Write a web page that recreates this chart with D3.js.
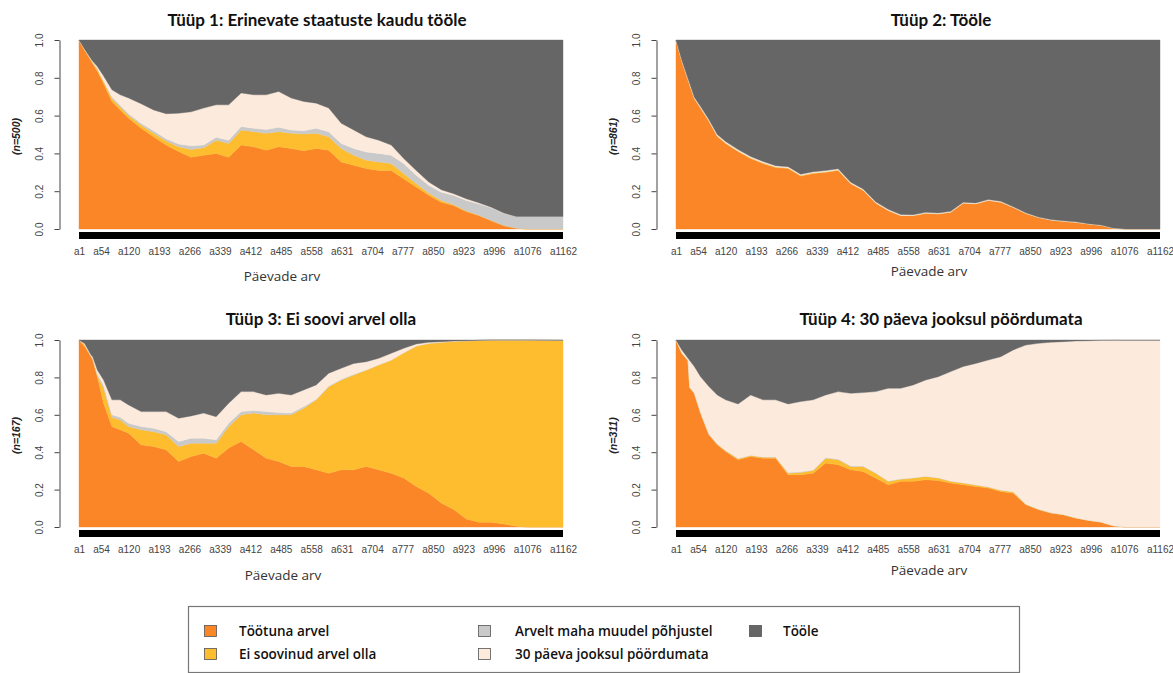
<!DOCTYPE html>
<html><head><meta charset="utf-8">
<script src="https://cdn.jsdelivr.net/npm/d3@7"></script>
<style>body{margin:0;background:#fff}svg{display:block}</style>
</head><body><svg id="c" width="1173" height="673"></svg>
<script>
// ---------- data ----------
const days = [1,15,30,34,45,60,80,100,120,150,180,210,240,270,300,330,360,390,420,450,480,510,540,570,600,630,660,690,720,750,780,810,840,870,900,930,960,990,1020,1050,1080,1162];
const xTickValues = [1,54,120,193,266,339,412,485,558,631,704,777,850,923,996,1076,1162];
const xTickLabels = ["a1","a54","a120","a193","a266","a339","a412","a485","a558","a631","a704","a777","a850","a923","a996","a1076","a1162"];
const yTickValues = [0,0.2,0.4,0.6,0.8,1.0];
const stateNames = ["Töötuna arvel","Ei soovinud arvel olla","Arvelt maha muudel põhjustel","30 päeva jooksul pöördumata","Tööle"];
const stateColors = ["#FB8627","#FDBD2F","#C9C9C9","#FCEBDD","#666666"];
const panelTitles = ["Tüüp 1: Erinevate staatuste kaudu tööle","Tüüp 2: Tööle","Tüüp 3: Ei soovi arvel olla","Tüüp 4: 30 päeva jooksul pöördumata"];
const panelN = [500, 861, 167, 311];

// Panel 1
const p1Tootuna = [1,.945,.89,.875,.835,.77,.675,.63,.586,.533,.488,.444,.41,.38,.39,.40,.38,.444,.435,.417,.435,.426,.414,.426,.417,.355,.337,.32,.31,.31,.266,.222,.178,.142,.124,.092,.071,.044,.018,.004,0,0];
const p1EiSoovinud = [0,.002,.005,.005,.01,.01,.015,.015,.014,.017,.019,.021,.025,.04,.04,.07,.073,.08,.08,.089,.08,.08,.089,.08,.071,.071,.053,.044,.045,.036,.027,.018,.012,.009,.004,.003,.002,.001,0,0,0,0];
const p1ArveltMaha = [0,0,.002,.003,.005,.005,.01,.01,.01,.01,.013,.013,.015,.02,.015,.015,.017,.018,.018,.021,.023,.018,.017,.027,.027,.027,.036,.044,.045,.044,.053,.044,.041,.044,.05,.056,.06,.067,.065,.062,.066,.066];
const p1Poordumata = [0,.003,.003,.005,.01,.025,.037,.055,.083,.103,.11,.132,.163,.18,.195,.172,.187,.178,.177,.183,.19,.169,.155,.133,.125,.107,.098,.08,.07,.054,.027,.026,.018,.013,.009,.009,.006,.003,.002,0,0,0];
const p1Toole = [0,.05,.10,.112,.14,.19,.263,.29,.307,.337,.37,.39,.387,.38,.36,.343,.343,.28,.29,.29,.272,.307,.325,.334,.36,.44,.476,.512,.53,.556,.627,.69,.751,.792,.813,.84,.861,.885,.915,.934,.934,.934];

// Panel 2
const p2Tootuna = [1,.89,.79,.765,.69,.64,.57,.49,.453,.41,.373,.346,.325,.32,.28,.293,.30,.31,.24,.204,.137,.098,.071,.071,.083,.08,.089,.137,.133,.151,.142,.115,.083,.062,.048,.041,.036,.027,.02,.005,0,0];
const p2EiSoovinud = [0,0,0,0,.002,.002,.003,.003,.003,.003,.004,.004,.004,.004,.004,.004,.003,.003,.002,.002,.002,.001,.001,.001,.001,.001,.001,.001,.001,.001,.001,0,0,0,0,0,0,0,0,0,0,0];
const p2ArveltMaha = [0,0,0,0,0,0,0,0,0,0,0,0,0,0,0,0,0,0,0,0,0,0,0,0,0,0,0,0,0,0,0,0,0,0,0,0,0,0,0,0,0,0];
const p2Poordumata = [0,.003,.005,.005,.005,.006,.006,.007,.007,.007,.007,.007,.006,.006,.006,.006,.006,.006,.006,.005,.005,.005,.005,.004,.004,.004,.004,.004,.004,.004,.004,.003,.003,.002,.002,.002,.002,.001,.001,0,0,0];
const p2Toole = [0,.107,.205,.23,.303,.352,.421,.50,.537,.58,.616,.643,.665,.67,.71,.697,.691,.681,.752,.789,.856,.896,.923,.924,.912,.915,.906,.858,.862,.844,.853,.882,.914,.936,.95,.957,.962,.972,.979,.995,1,1];

// Panel 3
const p3Tootuna = [1,.964,.91,.895,.804,.662,.537,.52,.502,.44,.43,.413,.35,.377,.395,.368,.422,.457,.413,.368,.35,.324,.324,.306,.288,.306,.306,.324,.306,.288,.262,.217,.181,.128,.093,.043,.025,.025,.016,.004,0,0];
const p3EiSoovinud = [0,.008,.002,.003,.006,.08,.05,.053,.035,.08,.08,.08,.08,.071,.053,.08,.115,.143,.196,.232,.25,.276,.311,.374,.462,.48,.507,.516,.561,.605,.67,.751,.801,.86,.90,.953,.973,.975,.984,.996,1,.998];
const p3ArveltMaha = [0,.004,.003,.004,.01,.018,.013,.014,.018,.017,.018,.017,.027,.027,.027,.018,.018,.017,.014,.017,.012,.009,.009,.003,.004,.004,.004,0,0,0,0,0,0,0,0,0,0,0,0,0,0,0];
const p3Poordumata = [0,.004,.005,.008,.02,.026,.08,.093,.098,.08,.089,.107,.125,.119,.134,.124,.107,.107,.101,.089,.103,.097,.089,.077,.068,.059,.058,.044,.035,.036,.024,.011,.006,.003,.002,0,0,0,0,0,0,0];
const p3Toole = [0,.02,.08,.09,.16,.214,.32,.32,.347,.383,.383,.383,.418,.406,.391,.41,.338,.276,.276,.294,.285,.294,.267,.24,.178,.151,.125,.116,.098,.071,.044,.021,.012,.009,.005,.004,.002,0,0,0,0,.002];

// Panel 4
const p4Tootuna = [1,.93,.89,.745,.715,.609,.493,.44,.404,.36,.377,.368,.368,.279,.279,.288,.342,.333,.306,.297,.262,.226,.244,.244,.253,.249,.235,.226,.217,.208,.19,.181,.119,.093,.075,.066,.048,.036,.027,.007,0,0];
const p4EiSoovinud = [0,0,0,0,0,0,.002,.003,.004,.005,.005,.005,.005,.009,.013,.014,.026,.027,.018,.027,.026,.018,.012,.018,.017,.013,.009,.009,.007,.006,.007,.007,.003,.002,.001,.001,.001,0,0,0,0,0];
const p4ArveltMaha = [0,0,0,.002,.003,.004,.003,.002,.002,.002,.002,.002,.002,.003,.003,.003,.003,.003,.003,.002,.002,.002,.002,.002,.002,.002,.002,.002,.002,.001,.001,.001,.001,.001,.001,0,0,0,0,0,0,0];
const p4Poordumata = [0,.017,.012,.143,.14,.191,.253,.261,.27,.291,.322,.305,.305,.367,.376,.375,.335,.361,.388,.393,.434,.496,.484,.496,.514,.54,.585,.621,.649,.678,.713,.758,.85,.886,.911,.924,.946,.96,.971,.992,.998,.998];
const p4Toole = [0,.053,.098,.11,.142,.196,.249,.294,.32,.342,.294,.32,.32,.342,.329,.32,.294,.276,.285,.281,.276,.258,.258,.24,.214,.196,.169,.142,.125,.107,.089,.053,.027,.018,.012,.009,.005,.004,.002,.001,.002,.002];

const panelSeries = [
  [p1Tootuna,p1EiSoovinud,p1ArveltMaha,p1Poordumata,p1Toole],
  [p2Tootuna,p2EiSoovinud,p2ArveltMaha,p2Poordumata,p2Toole],
  [p3Tootuna,p3EiSoovinud,p3ArveltMaha,p3Poordumata,p3Toole],
  [p4Tootuna,p4EiSoovinud,p4ArveltMaha,p4Poordumata,p4Toole]
];

// ---------- layout ----------
const FONT_T = "Lato, 'Open Sans', sans-serif";
const FONT_M = "'Open Sans', Lato, sans-serif";
const FONT_A = "'Liberation Sans', Arial, sans-serif";
const layout = [
  {L:79,  R:563,  T:40,  B:229, titleX:317, titleY:26,  xtX:282, xtY:281},
  {L:676, R:1160, T:40,  B:229, titleX:941, titleY:26,  xtX:929, xtY:276},
  {L:79,  R:563,  T:340, B:527, titleX:321, titleY:325, xtX:283, xtY:580},
  {L:676, R:1160, T:340, B:527, titleX:941, titleY:325, xtX:929, xtY:575}
];

const svg = d3.select("#c");
const keys = stateNames.map((d,i)=>"s"+i);

panelSeries.forEach((series, pi) => {
  const lay = layout[pi];
  const g = svg.append("g");
  const x = d3.scaleLinear().domain([1,1162]).range([lay.L, lay.R]);
  const y = d3.scaleLinear().domain([0,1]).range([lay.B, lay.T]);

  const rows = days.map((d,i)=>{
    const r = {day:d};
    series.forEach((s,k)=>{ r["s"+k] = s[i]; });
    return r;
  });
  const stacked = d3.stack().keys(keys)(rows);
  const area = d3.area().x(d=>x(d.data.day)).y0(d=>y(d[0])).y1(d=>y(d[1]));

  g.selectAll("path.layer").data(stacked).join("path")
    .attr("class","layer")
    .attr("d", area)
    .attr("fill", (d,i)=>stateColors[i])
    .attr("stroke", (d,i)=>stateColors[i])
    .attr("stroke-width", 0.4);

  // black sequence bar under plot
  g.append("rect")
    .attr("x", x(1)).attr("width", x(1162)-x(1))
    .attr("y", lay.B+3).attr("height", 7)
    .attr("fill", "#000");

  // y axis
  const yAxis = d3.axisLeft(y).tickValues(yTickValues).tickFormat(d3.format(".1f")).tickSize(5).tickSizeOuter(0);
  const ya = g.append("g").attr("transform", `translate(${lay.L-19.5},0)`).call(yAxis);
  ya.select(".domain").attr("stroke","#444");
  ya.selectAll(".tick line").attr("stroke","#444");
  ya.selectAll(".tick text")
    .attr("x", null).attr("dy", null).attr("y", null)
    .attr("text-anchor","middle")
    .attr("transform","translate(-16.5,0) rotate(-90)")
    .attr("font-family", FONT_A).attr("font-size", 10).attr("fill","#444");

  // x tick labels
  const xAxis = d3.axisBottom(x).tickValues(xTickValues).tickFormat((d,i)=>xTickLabels[i]).tickSize(0).tickPadding(0);
  const xa = g.append("g").attr("transform", `translate(0,${lay.B+14})`).call(xAxis);
  xa.select(".domain").remove();
  xa.selectAll(".tick text").attr("dy", null).attr("y", 11.5)
    .attr("font-family", FONT_A).attr("font-size", 10).attr("fill","#444");

  // title
  g.append("text").attr("x", lay.titleX).attr("y", lay.titleY)
    .attr("text-anchor","middle").attr("font-family", FONT_T)
    .attr("font-weight","bold").attr("font-size", 17).attr("fill","#111")
    .text(panelTitles[pi]);

  // x title
  g.append("text").attr("x", lay.xtX).attr("y", lay.xtY)
    .attr("text-anchor","middle").attr("font-family", FONT_M)
    .attr("font-size", 13.5).attr("fill","#333")
    .text("Päevade arv");

  // y label (n=...)
  g.append("text")
    .attr("transform", `translate(${lay.L-59.5},${(lay.T+lay.B)/2 + 2}) rotate(-90)`)
    .attr("text-anchor","middle").attr("font-family", FONT_A)
    .attr("font-style","italic").attr("font-weight","bold")
    .attr("font-size", 10.5).attr("fill","#222")
    .text(`(n=${panelN[pi]})`);
});

// ---------- legend ----------
const lg = svg.append("g");
lg.append("rect").attr("x",188.5).attr("y",606.5).attr("width",831).attr("height",66)
  .attr("fill","none").attr("stroke","#777").attr("stroke-width",1.2);
const legendPos = [
  {sx:204, sy:625, tx:239},
  {sx:204, sy:648, tx:239},
  {sx:478, sy:625, tx:515},
  {sx:478, sy:648, tx:515},
  {sx:749, sy:625, tx:783}
];
const legendOrder = [0,1,2,3,4];
legendOrder.forEach((si, k) => {
  const p = legendPos[k];
  lg.append("rect").attr("x",p.sx+0.5).attr("y",p.sy+0.5).attr("width",12).attr("height",11)
    .attr("fill",stateColors[si]).attr("stroke","#555").attr("stroke-width",0.8);
  lg.append("text").attr("x",p.tx).attr("y",p.sy+10.5)
    .attr("font-family",FONT_M).attr("font-weight",600).attr("font-size",13.5).attr("fill","#111")
    .text(stateNames[si]);
});
</script>
</body></html>
